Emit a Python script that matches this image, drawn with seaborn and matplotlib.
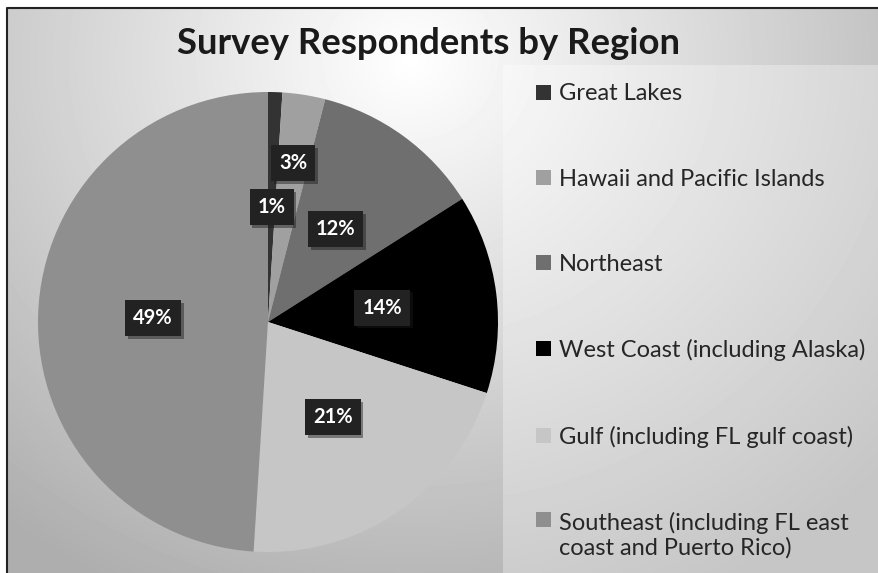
import matplotlib
matplotlib.use("Agg")
import matplotlib.pyplot as plt
import matplotlib.patheffects as pe
import seaborn as sns
import numpy as np

# data
regions = ["Great Lakes", "Hawaii and Pacific Islands", "Northeast",
           "West Coast (including Alaska)", "Gulf (including FL gulf coast)",
           "Southeast (including FL east\ncoast and Puerto Rico)"]
shares = [1, 3, 12, 14, 21, 49]
colors = ["#333333", "#a0a0a0", "#6f6f6f", "#000000", "#c6c6c6", "#8f8f8f"]

sns.set_theme(style="white")
plt.rcParams["font.family"] = ["Lato", "DejaVu Sans"]

W, H = 879, 573
fig = plt.figure(figsize=(W / 100, H / 100), dpi=100)

# radial grey background with a lighter legend panel
bg = fig.add_axes([0, 0, 1, 1], zorder=-10)
yy, xx = np.mgrid[0:H, 0:W]
d = np.hypot(xx - 410, (yy - 60) * 1.1)
shade = 1 - 0.32 * np.clip(d / 650, 0, 1) ** 1.0
in_leg = (xx >= 503) & (yy >= 65)
shade = np.where(in_leg, shade + (1 - shade) * 0.3, shade)
shade[:, :7] = 1
shade[:8, :] = 1
bg.imshow(shade, cmap="gray", vmin=0, vmax=1, extent=(0, W, H, 0),
          aspect="auto", interpolation="bilinear")
bg.plot([7, 7, W], [H, 8, 8], color="#222222", lw=1.5)
bg.set_xlim(0, W)
bg.set_ylim(H, 0)
bg.axis("off")

# pie
ax = fig.add_axes([(268 - 230) / W, (H - 322 - 230) / H, 460 / W, 460 / H])
wedges, texts, autotexts = ax.pie(
    shares, colors=colors, startangle=90, counterclock=False,
    autopct="%1.0f%%", pctdistance=0.5, wedgeprops=dict(linewidth=0),
    textprops=dict(color="white", fontsize=14.5, fontweight="bold"))
ax.set_xlim(-1, 1)
ax.set_ylim(-1, 1)

# the small 3% slice has its label pushed further out
w = wedges[1]
mid = np.deg2rad((w.theta1 + w.theta2) / 2)
autotexts[1].set_position((0.7 * np.cos(mid), 0.7 * np.sin(mid)))

for t in autotexts:
    t.set_bbox(dict(boxstyle="square,pad=0.4", facecolor="#222222", edgecolor="none"))
    t.get_bbox_patch().set_path_effects(
        [pe.withSimplePatchShadow(offset=(2, -2), shadow_rgbFace="k", alpha=0.45)])

leg = fig.legend(wedges, regions, loc="upper left", bbox_to_anchor=(527 / W, 1 - 74 / H),
                 frameon=False, fontsize=17, handlelength=0.6, handleheight=0.6,
                 handletextpad=0.35, labelspacing=2.72, borderaxespad=0)

# keep the marker of the two-line entry next to its first line
for col in leg._legend_handle_box.get_children():
    for row in col.get_children():
        if "\n" in row.get_children()[1]._text.get_text():
            row.align = "top"

fig.text(0.488, 1 - 43 / H, "Survey Respondents by Region", ha="center", va="center",
         fontsize=26.3, fontweight="bold", color="#1a1a1a")

fig.savefig("out.png", dpi=100)
